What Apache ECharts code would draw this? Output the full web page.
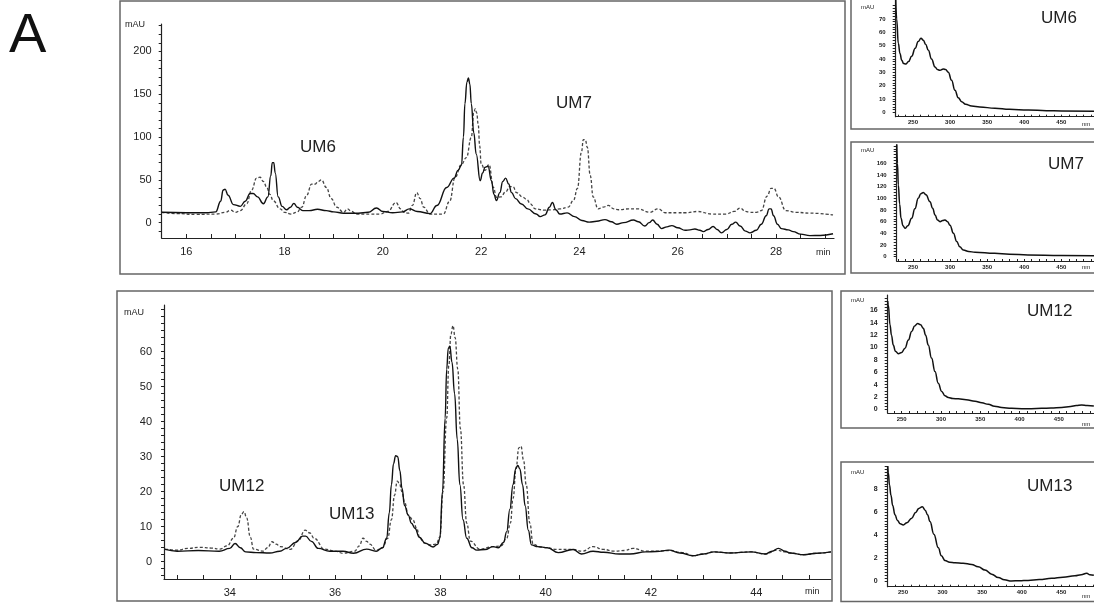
<!DOCTYPE html>
<html>
<head>
<meta charset="utf-8">
<script src="https://cdn.jsdelivr.net/npm/echarts@6/dist/echarts.min.js"></script>
<style>
html, body { margin: 0; padding: 0; background: #fff; }
#chart { width: 1094px; height: 603px; }
</style>
</head>
<body>
<div id="chart"></div>
<script>
// chromatogram, 16-29 min: solid trace and dashed trace [min, mAU]
var topSolid = [[15.5,12],[16.0,11.5],[16.4,11.5],[16.6,12.5],[16.7,25],[16.75,38],[16.79,39],[16.85,32],[16.96,21],[17.1,19],[17.2,25],[17.3,34],[17.36,34],[17.45,30],[17.57,22],[17.66,30],[17.72,55],[17.75,70],[17.78,70],[17.81,58],[17.87,30],[17.95,19],[18.04,15],[18.12,18],[18.19,22.5],[18.26,18],[18.37,14],[18.5,14],[18.67,15.5],[18.85,14],[19.0,12.5],[19.2,11],[19.5,11],[19.7,12],[19.87,17],[20.0,13],[20.2,11.5],[20.4,12.5],[20.54,16],[20.7,13],[20.96,10.5],[21.1,20],[21.3,41],[21.45,52],[21.53,61],[21.6,67],[21.64,100],[21.67,139],[21.71,164],[21.74,169],[21.77,162],[21.8,139],[21.85,105],[21.9,80],[21.98,49],[22.03,58],[22.08,64.6],[22.14,66],[22.21,49],[22.26,33],[22.31,25.7],[22.38,35],[22.44,48],[22.5,52],[22.56,45],[22.62,35],[22.7,28],[22.82,21.8],[22.95,16],[23.12,10],[23.2,7],[23.3,9],[23.39,18],[23.45,23.5],[23.52,15],[23.6,10],[23.75,11.3],[23.9,7],[24.05,2.5],[24.2,0.5],[24.35,1.5],[24.52,3.5],[24.65,1],[24.76,-2],[24.9,0],[25.1,3],[25.2,1],[25.33,-4],[25.42,0],[25.49,3],[25.58,-2],[25.67,-7],[25.78,-5],[25.88,-3.5],[26.0,-6],[26.15,-9],[26.25,-8.5],[26.35,-7.5],[26.45,-9],[26.52,-10.5],[26.62,-8],[26.72,-4.5],[26.8,-8],[26.89,-12],[27.0,-8],[27.1,-2],[27.18,0.5],[27.27,-4],[27.38,-10],[27.47,-12],[27.6,-9],[27.7,-2],[27.8,8],[27.86,16],[27.9,16],[27.95,8],[28.03,-2],[28.11,-7],[28.25,-8.5],[28.35,-10.5],[28.5,-13.5],[28.69,-15.2],[28.9,-15],[29.16,-13]];
var topDash = [[15.5,12],[15.8,10.5],[16.2,9.5],[16.6,10],[16.8,12],[16.9,14.5],[17.0,12],[17.1,14],[17.23,22],[17.33,38],[17.43,52],[17.5,53],[17.57,48],[17.64,41],[17.7,33],[17.77,25.5],[17.91,16],[18.0,12],[18.13,10],[18.25,12],[18.35,18],[18.45,32],[18.55,45],[18.62,45],[18.68,48],[18.75,50],[18.85,41],[18.95,28],[19.06,18],[19.2,12],[19.28,16],[19.36,13],[19.47,10],[19.74,10],[19.94,10],[20.1,13],[20.27,23.5],[20.36,16],[20.43,12],[20.52,11],[20.6,20],[20.69,35],[20.76,28],[20.83,18],[20.96,10],[21.23,10],[21.36,25],[21.47,53],[21.6,68],[21.7,76],[21.8,99.6],[21.85,128],[21.88,133],[21.91,128],[21.94,115],[21.97,90],[22.0,68.6],[22.08,61],[22.16,67.8],[22.25,41],[22.31,29.6],[22.4,30],[22.5,36],[22.58,42],[22.65,42],[22.72,35],[22.85,29.6],[22.93,27],[23.0,22],[23.1,16],[23.3,14.5],[23.45,15],[23.6,16],[23.77,18],[23.88,26],[23.96,40],[24.04,82],[24.08,97],[24.12,97],[24.16,88],[24.22,55],[24.28,30],[24.38,16],[24.48,18],[24.59,20],[24.7,16],[24.8,15],[25.0,16],[25.2,16],[25.43,12],[25.6,16],[25.75,11.5],[26.0,11.5],[26.17,11.5],[26.4,13],[26.7,10],[26.98,10],[27.15,13],[27.27,17],[27.38,13],[27.47,12],[27.6,12],[27.7,14],[27.82,31],[27.9,40],[27.96,40],[28.05,30],[28.2,14],[28.4,12],[28.7,11],[29.16,9]];

// chromatogram, 33-45 min
var botSolid = [[32.77,3.5],[33.0,3],[33.4,3.2],[33.8,3],[34.0,3.8],[34.1,5.2],[34.2,4],[34.3,2.8],[34.5,2.6],[34.76,2.5],[34.95,3],[35.08,3.8],[35.25,5.5],[35.38,7.3],[35.44,7.3],[35.55,5.8],[35.68,3.8],[35.9,3],[36.15,3],[36.35,2.4],[36.6,3.6],[36.78,3],[36.9,4],[36.98,6.7],[37.03,14],[37.07,22],[37.11,28],[37.15,30.3],[37.19,30],[37.23,26],[37.27,21],[37.32,16],[37.39,13.3],[37.45,11],[37.52,9.5],[37.6,7],[37.71,5.3],[37.86,4.2],[37.95,5],[37.99,6.7],[38.04,20],[38.09,41],[38.12,55],[38.15,61],[38.18,61.5],[38.22,57],[38.27,48],[38.32,35],[38.37,22],[38.43,12],[38.5,6.7],[38.6,4],[38.69,3.3],[38.85,3.5],[39.0,4.3],[39.1,4],[39.2,5.5],[39.26,8.6],[39.32,15],[39.38,22],[39.43,26.5],[39.47,27.5],[39.51,26.5],[39.56,22],[39.61,16],[39.67,9],[39.73,4.8],[39.85,4.3],[40.03,4],[40.24,2.6],[40.52,3.5],[40.68,2.2],[40.9,3],[41.1,2.7],[41.4,2.2],[41.6,2.2],[41.9,2.8],[42.1,2.9],[42.35,3.3],[42.55,2.5],[42.8,1.7],[43.0,2.2],[43.2,2.8],[43.5,2.5],[43.9,2.8],[44.17,2.2],[44.3,3],[44.42,3.8],[44.55,3],[44.64,2.5],[44.9,2],[45.15,2.4],[45.42,2.8]];
var botDash = [[32.77,3.6],[33.0,3.3],[33.2,3.8],[33.43,4.1],[33.65,3.9],[33.81,3.6],[33.95,4.5],[34.07,6.7],[34.15,10],[34.22,13.5],[34.27,14.3],[34.32,12.5],[34.39,7],[34.45,3.6],[34.63,3],[34.72,4],[34.8,5.7],[34.88,5],[34.96,4.3],[35.15,3.5],[35.3,6],[35.43,9],[35.52,8.2],[35.6,6.7],[35.8,3.6],[36.0,3],[36.15,2.4],[36.37,3],[36.46,4.5],[36.53,6.7],[36.6,5.8],[36.66,5],[36.78,3.3],[36.9,4],[37.0,6.7],[37.07,12],[37.13,19],[37.18,23],[37.22,22.5],[37.27,20],[37.32,17],[37.39,13.3],[37.48,11.9],[37.55,9.5],[37.61,6.7],[37.7,5.3],[37.8,4.8],[37.92,5],[37.99,7],[38.05,20],[38.12,41],[38.16,56],[38.2,65],[38.24,67.4],[38.28,64],[38.33,55],[38.38,38],[38.44,22],[38.5,11],[38.57,5.9],[38.75,3.6],[39.0,4.3],[39.15,4.5],[39.26,6.7],[39.33,11],[39.38,18],[39.44,27],[39.49,32.5],[39.53,33],[39.58,29],[39.63,22],[39.7,11],[39.76,5],[39.9,4.2],[40.03,4],[40.2,3.5],[40.52,3.5],[40.7,3],[40.9,4.3],[41.1,3.5],[41.3,3],[41.5,3.2],[41.66,3.8],[41.9,3],[42.1,3],[42.35,3.2],[42.6,2.6],[42.8,1.7],[43.0,2.2],[43.2,2.8],[43.5,2.5],[43.9,2.8],[44.17,2.2],[44.39,3.3],[44.55,2.8],[44.64,2.5],[44.9,2],[45.15,2.4],[45.42,2.8]];

// UV spectra [nm, mAU]
var um6Spec = [[226.7,86],[228,70],[230.2,51.7],[232.5,44],[234.8,39],[237.5,36.5],[240.2,36.2],[244,38],[248.2,42],[253,48],[257,53],[260.8,55.5],[264,54],[267,51],[270.7,46.5],[275,40],[279.7,34],[283,32],[286.4,31.5],[290.9,32.5],[294,32],[297.6,30],[302,24],[306.6,16.5],[311,11],[315.6,8],[321,6],[329,4.7],[340,4],[360.5,3],[380,2.2],[405.4,1.7],[430,1.2],[450,1.0],[494,0.7]];
var um7Spec = [[228,200],[229,160],[230.2,123],[232,90],[233.8,66],[236.5,53],[239.2,48.7],[243,53],[248.2,66],[252.5,82],[257.1,100],[260.5,108],[263.9,110],[267.5,106],[272.9,94],[276.5,83],[279.7,71.5],[283,63],[286.4,60],[290,62],[293.1,63],[296.5,60],[299.9,54],[304.5,40],[308.9,26],[313,17],[317.8,11.5],[325,9],[333.6,7.5],[360,5.7],[380,4.3],[405,2.9],[450,2.2],[494,1.7]];
var um12Spec = [[232.2,17.5],[233,16.9],[235.1,13.7],[237,12],[239.3,10.4],[242,9.4],[245.7,9],[250,9.2],[254.2,9.9],[258.5,11.2],[262.7,12.6],[266.5,13.5],[270.3,13.9],[274,13.7],[277.5,13.1],[280.5,12],[283.8,10.4],[288,8.3],[292.4,6.1],[296.5,4.2],[300.9,2.9],[305,2.2],[309.3,1.9],[315,1.75],[322,1.7],[332,1.55],[343.3,1.3],[352,1.05],[360.2,0.8],[368,0.5],[377.2,0.3],[390,0.15],[402.7,0.1],[415,0.1],[428,0.15],[440,0.2],[453.6,0.3],[465,0.45],[472,0.6],[479,0.7],[486,0.6],[494.5,0.55]];
var um13Spec = [[230.7,10.3],[231.4,9.5],[233,8.4],[234.8,7.5],[237,6.6],[239.9,5.8],[243,5.3],[246.5,5.0],[250.4,4.9],[255,5.1],[261,5.5],[266,6.0],[270,6.35],[274.4,6.5],[278,6.2],[281,5.8],[284.1,5.2],[289,4.1],[294.6,2.9],[298.5,2.2],[303,1.8],[309,1.65],[315.7,1.6],[326,1.55],[336.7,1.45],[345,1.25],[353.5,0.96],[362,0.6],[370.3,0.3],[378,0.1],[387,0.0],[397,0.02],[408,0.05],[422,0.12],[437.8,0.23],[452,0.33],[467.2,0.46],[475,0.55],[482,0.67],[486,0.55],[491,0.5]];

// tick labels
var topXLabels = [16, 18, 20, 22, 24, 26, 28];
var topYLabels = [0, 50, 100, 150, 200];
var botXLabels = [34, 36, 38, 40, 42, 44];
var botYLabels = [0, 10, 20, 30, 40, 50, 60];
var nmLabels = [250, 300, 350, 400, 450];
var um6YLabels = [0, 10, 20, 30, 40, 50, 60, 70];
var um7YLabels = [0, 20, 40, 60, 80, 100, 120, 140, 160];
var um12YLabels = [0, 2, 4, 6, 8, 10, 12, 14, 16];
var um13YLabels = [0, 2, 4, 6, 8];

function steps(a, b, s) {
    var out = [];
    for (var v = a; v <= b + 1e-9; v += s) out.push(Math.round(v * 1000) / 1000);
    return out;
}

var ink = '#222';

function axis(grid, min, max, ticks, labels, font, margin, tickInside, tickLen) {
    return {
        type: 'value',
        gridIndex: grid,
        min: min,
        max: max,
        axisLine: { show: true, onZero: false, lineStyle: { color: ink, width: 1.2 } },
        axisTick: { show: true, inside: tickInside, length: tickLen, customValues: ticks, lineStyle: { color: ink, width: 1 } },
        axisLabel: { show: true, customValues: labels, margin: margin, color: ink, fontSize: font, fontFamily: 'Liberation Sans, Arial, sans-serif',
            fontWeight: font < 9 ? 'bold' : 'normal' },
        splitLine: { show: false }
    };
}

function trace(grid, data, dashed, w) {
    return {
        type: 'line',
        xAxisIndex: grid,
        yAxisIndex: grid,
        data: data,
        showSymbol: false,
        symbol: 'none',
        smooth: 0.45,
        smoothMonotone: 'x',
        clip: true,
        animation: false,
        lineStyle: dashed ? { color: '#444', width: 1.3, type: [3, 2] } : { color: '#111', width: w || 1.4 }
    };
}

function txt(x, y, s, size, align) {
    return { type: 'text', x: x, y: y, z: 10, style: { text: s, fill: ink, font: size + 'px "Liberation Sans", Arial, sans-serif', align: align || 'left', verticalAlign: 'middle' } };
}
function frame(x, y, w, h) {
    return { type: 'rect', z: 5, shape: { x: x, y: y, width: w, height: h }, style: { fill: 'none', stroke: '#666', lineWidth: 1.5 } };
}

var chart = echarts.init(document.getElementById('chart'));
chart.setOption({
    animation: false,
    backgroundColor: '#fff',
    grid: [
        { left: 161.7, top: 24, width: 672.3, height: 214, containLabel: false, outerBoundsMode: 'none' },
        { left: 164, top: 305, width: 667, height: 274, containLabel: false, outerBoundsMode: 'none' },
        { left: 895.7, top: 0, width: 198.3, height: 116.7, containLabel: false, outerBoundsMode: 'none' },
        { left: 896.7, top: 145, width: 197.3, height: 116, containLabel: false, outerBoundsMode: 'none' },
        { left: 887.7, top: 295, width: 206.3, height: 118, containLabel: false, outerBoundsMode: 'none' },
        { left: 887.7, top: 466.7, width: 206.3, height: 120, containLabel: false, outerBoundsMode: 'none' }
    ],
    xAxis: [
        axis(0, 15.5, 29.18, steps(16, 29, 0.5), topXLabels, 11, 8, true, 4),
        axis(1, 32.75, 45.42, steps(33, 45, 0.5), botXLabels, 11, 8, true, 4),
        axis(2, 226.7, 494, steps(230, 490, 10), nmLabels, 6, 3, true, 2),
        axis(3, 228, 494, steps(230, 490, 10), nmLabels, 6, 3, true, 2),
        axis(4, 232.2, 494.7, steps(240, 490, 10), nmLabels, 6, 3, true, 2),
        axis(5, 230.7, 491.2, steps(240, 490, 10), nmLabels, 6, 3, true, 2)
    ],
    yAxis: [
        axis(0, -18, 232, steps(-10, 230, 10), topYLabels, 11, 10, false, 3),
        axis(1, -4.94, 73.3, steps(-4, 72, 2), botYLabels, 11, 12, false, 3),
        axis(2, -3.3, 84.2, steps(0, 80, 2), um6YLabels, 6, 10, false, 3),
        axis(3, -7.4, 191.5, steps(0, 190, 5), um7YLabels, 6, 10, false, 3),
        axis(4, -0.6, 18.5, steps(0, 18, 0.5), um12YLabels, 7, 10, false, 3),
        axis(5, -0.5, 10, steps(0, 10, 0.25), um13YLabels, 7, 10, false, 3)
    ],
    series: [
        trace(0, topDash, true),
        trace(0, topSolid, false),
        trace(1, botDash, true),
        trace(1, botSolid, false),
        trace(2, um6Spec, false, 1.5),
        trace(3, um7Spec, false, 1.5),
        trace(4, um12Spec, false, 1.5),
        trace(5, um13Spec, false, 1.5)
    ],
    graphic: [
        frame(120, 1, 725, 273),
        frame(117, 291, 715, 310),
        frame(851, -5, 260, 134),
        frame(851, 142, 260, 131),
        frame(841, 291, 270, 137),
        frame(841, 462, 270, 139.5),
        { type: 'text', x: 9, y: 37, z: 10, style: { text: 'A', fill: '#111', font: '56px "Liberation Sans", Arial, sans-serif', align: 'left', verticalAlign: 'middle' } },
        txt(125, 25, 'mAU', 9),
        txt(124, 313, 'mAU', 9),
        txt(816, 253, 'min', 9),
        txt(805, 592, 'min', 9),
        txt(300, 147, 'UM6', 17),
        txt(556, 103, 'UM7', 17),
        txt(219, 486, 'UM12', 17),
        txt(329, 514, 'UM13', 17),
        txt(1041, 18, 'UM6', 17),
        txt(1048, 164, 'UM7', 17),
        txt(1027, 311, 'UM12', 17),
        txt(1027, 486, 'UM13', 17),
        txt(861, 7, 'mAU', 6),
        txt(861, 150, 'mAU', 6),
        txt(851, 300, 'mAU', 6),
        txt(851, 472, 'mAU', 6),
        txt(1082, 124, 'nm', 6),
        txt(1082, 267, 'nm', 6),
        txt(1082, 424, 'nm', 6),
        txt(1082, 596, 'nm', 6)
    ]
});
</script>
</body>
</html>
